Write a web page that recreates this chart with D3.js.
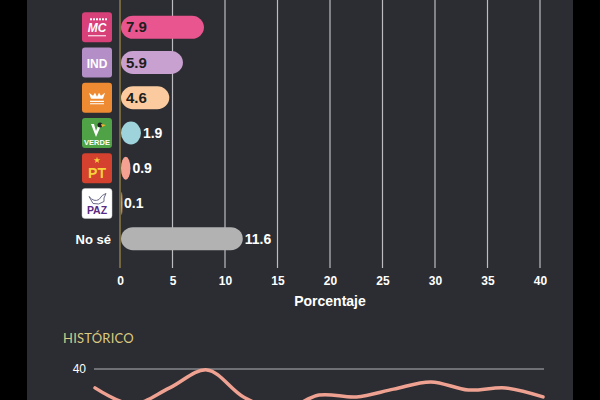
<!DOCTYPE html>
<html>
<head>
<meta charset="utf-8">
<script src="https://cdn.jsdelivr.net/npm/d3@7"></script>
<style>
  html, body { margin: 0; padding: 0; background: #000; }
  svg { display: block; }
</style>
</head>
<body>
<svg id="chart" width="600" height="400"></svg>
<script>
// bar data
var parties = ["MC", "IND", "MOV", "VERDE", "PT", "PAZ", "No sé"];
var values = [7.9, 5.9, 4.6, 1.9, 0.9, 0.1, 11.6];
var barColors = ["#e9558f", "#c9a1d0", "#fbcb9f", "#9fd3dc", "#f4a191", "#e0955c", "#b2b2b2"];
var xTicks = [0, 5, 10, 15, 20, 25, 30, 35, 40];

// historic line (lower part is cut)
var histIndex = [0, 1, 2, 3, 4, 5, 6, 7, 8, 9, 10, 11, 12];
var histValues = [33.7, 28.3, 33.7, 39.7, 30.5, 26.3, 31.3, 30.7, 33.3, 35.7, 33, 33.7, 30.7];
var histTicks = [40];

var svg = d3.select("#chart");

// panel
svg.append("rect")
	.attr("x", 27).attr("y", 0)
	.attr("width", 546).attr("height", 400)
	.attr("fill", "#2b2d32");

var x = d3.scaleLinear().domain([0, 40]).range([120, 540]);
var y = d3.scaleBand().domain(parties).range([3.5, 262.5]).padding(0.35);

// grid
svg.selectAll("line.grid")
	.data(xTicks)
	.enter()
	.append("line")
	.attr("class", "grid")
	.attr("x1", function(d){ return x(d); })
	.attr("x2", function(d){ return x(d); })
	.attr("y1", 0)
	.attr("y2", 268)
	.attr("stroke", function(d){ return d == 0 ? "#8c7b45" : "#bdbdc1"; })
	.attr("stroke-width", function(d){ return d == 0 ? 1.5 : 1.2; });

// axis labels
var xAxis = d3.axisBottom(x).tickValues(xTicks).tickSize(0).tickPadding(0);
var gx = svg.append("g").attr("transform", "translate(0,276)").call(xAxis);
gx.select(".domain").remove();
gx.selectAll("text")
	.attr("fill", "#fff")
	.attr("font-family", "Liberation Sans, Arial, sans-serif")
	.attr("font-weight", "bold")
	.attr("font-size", 12);

svg.append("text")
	.attr("x", x(20))
	.attr("y", 306)
	.attr("text-anchor", "middle")
	.attr("fill", "#fff")
	.attr("font-family", "Liberation Sans, Arial, sans-serif")
	.attr("font-weight", "bold")
	.attr("font-size", 14)
	.text("Porcentaje");

// bars
var rows = parties.map(function(p, i){
	return {name: p, value: values[i], color: barColors[i]};
});

svg.selectAll("rect.bar")
	.data(rows)
	.enter()
	.append("rect")
	.attr("class", "bar")
	.attr("x", x(0) + 1)
	.attr("y", function(d){ return y(d.name); })
	.attr("width", function(d){ return Math.max(x(d.value) - x(0), 1.5); })
	.attr("height", y.bandwidth())
	.attr("rx", 12)
	.attr("ry", 12)
	.attr("fill", function(d){ return d.color; });

svg.selectAll("text.val")
	.data(rows)
	.enter()
	.append("text")
	.attr("class", "val")
	.attr("x", function(d){
		var inside = d.value > 3 && d.name != "No sé";
		return inside ? x(0) + 6 : x(d.value) + 3;
	})
	.attr("y", function(d){ return y(d.name) + y.bandwidth() / 2 + 5; })
	.attr("fill", function(d){ return (d.value > 3 && d.name != "No sé") ? "#1e1e1e" : "#fff"; })
	.attr("font-family", "Liberation Sans, Arial, sans-serif")
	.attr("font-weight", "bold")
	.attr("font-size", function(d){ return (d.value > 3 && d.name != "No sé") ? 15 : 14; })
	.text(function(d){ return d.value.toFixed(1); });

// logos
var logoFill = {MC: "#d8407a", IND: "#b48ec6", MOV: "#ee8a32", VERDE: "#4fa245", PT: "#d5412f", PAZ: "#ffffff"};
var logos = svg.selectAll("g.logo")
	.data(parties.filter(function(p){ return logoFill[p]; }))
	.enter()
	.append("g")
	.attr("class", "logo")
	.attr("transform", function(d){ return "translate(82," + (y(d) + y.bandwidth() / 2 - 15) + ")"; });

logos.append("rect")
	.attr("width", 30).attr("height", 30).attr("rx", 3)
	.attr("fill", function(d){ return logoFill[d]; })
	.attr("stroke", function(d){ return d == "PAZ" ? "#ccc" : "none"; })
	.attr("stroke-width", 0.5);

logos.each(function(d){
	var g = d3.select(this);
	if(d == "MC"){
		g.selectAll("rect.dot").data(d3.range(6)).enter().append("rect")
			.attr("x", function(i){ return 8 + i * 3; }).attr("y", 6)
			.attr("width", 2).attr("height", 2).attr("fill", "#fff");
		g.append("text").attr("x", 15).attr("y", 20).attr("text-anchor", "middle")
			.attr("fill", "#fff").attr("font-family", "Liberation Sans, Arial, sans-serif")
			.attr("font-weight", "bold").attr("font-style", "italic").attr("font-size", 12)
			.text("MC");
		g.append("rect").attr("x", 6).attr("y", 23).attr("width", 18).attr("height", 1).attr("fill", "#fff");
	}else if(d == "IND"){
		g.append("text").attr("x", 15).attr("y", 20).attr("text-anchor", "middle")
			.attr("fill", "#fff").attr("font-family", "Liberation Sans, Arial, sans-serif")
			.attr("font-weight", "bold").attr("font-size", 12)
			.text("IND");
	}else if(d == "MOV"){
		g.append("path")
			.attr("d", "M7,10 L11,13 L13,10 L15,14 L17,10 L19,13 L23,10 L21,16 L9,16 Z")
			.attr("fill", "#fff");
		g.append("rect").attr("x", 8).attr("y", 18).attr("width", 14).attr("height", 1.2).attr("fill", "#fff");
		g.append("rect").attr("x", 8).attr("y", 20.5).attr("width", 14).attr("height", 1).attr("fill", "#fff");
	}else if(d == "VERDE"){
		g.append("path").attr("d", "M9,6 L14,19 L20,5 L17,5 L14,13 L12,6 Z").attr("fill", "#fff");
		g.append("circle").attr("cx", 18).attr("cy", 7).attr("r", 2.5).attr("fill", "#222");
		g.append("path").attr("d", "M19,6 L24,7 L20,9 Z").attr("fill", "#f2b830");
		g.append("text").attr("x", 15).attr("y", 27).attr("text-anchor", "middle")
			.attr("fill", "#fff").attr("font-family", "Liberation Sans, Arial, sans-serif")
			.attr("font-weight", "bold").attr("font-size", 7.5)
			.text("VERDE");
	}else if(d == "PT"){
		g.append("path").attr("d", d3.symbol().type(d3.symbolStar).size(14)())
			.attr("transform", "translate(15,7)").attr("fill", "#f5d33c");
		g.append("text").attr("x", 15).attr("y", 25).attr("text-anchor", "middle")
			.attr("fill", "#f5d33c").attr("font-family", "Liberation Sans, Arial, sans-serif")
			.attr("font-weight", "bold").attr("font-size", 14)
			.text("PT");
	}else if(d == "PAZ"){
		g.append("path").attr("d", "M7,8 Q12,14 17,11 Q20,6 24,5 Q21,10 22,13 Q17,17 11,15 Z")
			.attr("fill", "none").attr("stroke", "#6b6b8a").attr("stroke-width", 1);
		g.append("text").attr("x", 15).attr("y", 26).attr("text-anchor", "middle")
			.attr("fill", "#5a2b80").attr("font-family", "Liberation Sans, Arial, sans-serif")
			.attr("font-weight", "bold").attr("font-size", 10.5)
			.text("PAZ");
	}
});

svg.append("text")
	.attr("x", 111)
	.attr("y", y("No sé") + y.bandwidth() / 2 + 5)
	.attr("text-anchor", "end")
	.attr("fill", "#fff")
	.attr("font-family", "Liberation Sans, Arial, sans-serif")
	.attr("font-weight", "bold")
	.attr("font-size", 13)
	.text("No sé");

// historic section
svg.append("text")
	.attr("x", 63)
	.attr("y", 343)
	.attr("fill", "#dcca80")
	.attr("font-family", "Lato, Open Sans, sans-serif")
	.attr("font-size", 13)
	.attr("letter-spacing", 0.2)
	.text("HISTÓRICO");

var hx = d3.scaleLinear().domain([0, 12]).range([95, 543]);
var hy = d3.scaleLinear().domain([30, 40]).range([399, 369]);

svg.selectAll("line.hgrid")
	.data(histTicks)
	.enter()
	.append("line")
	.attr("class", "hgrid")
	.attr("x1", 94).attr("x2", 544)
	.attr("y1", function(d){ return hy(d); })
	.attr("y2", function(d){ return hy(d); })
	.attr("stroke", "#b5b5b8")
	.attr("stroke-width", 1);

svg.selectAll("text.htick")
	.data(histTicks)
	.enter()
	.append("text")
	.attr("class", "htick")
	.attr("x", 86)
	.attr("y", function(d){ return hy(d) + 4; })
	.attr("text-anchor", "end")
	.attr("fill", "#fff")
	.attr("font-family", "Liberation Sans, Arial, sans-serif")
	.attr("font-size", 12)
	.text(function(d){ return d; });

var line = d3.line()
	.x(function(d, i){ return hx(histIndex[i]); })
	.y(function(d){ return hy(d); })
	.curve(d3.curveCatmullRom.alpha(0.5));

svg.append("path")
	.datum(histValues)
	.attr("d", line)
	.attr("fill", "none")
	.attr("stroke", "#f0a292")
	.attr("stroke-width", 3.5)
	.attr("stroke-linecap", "round");
</script>
</body>
</html>
